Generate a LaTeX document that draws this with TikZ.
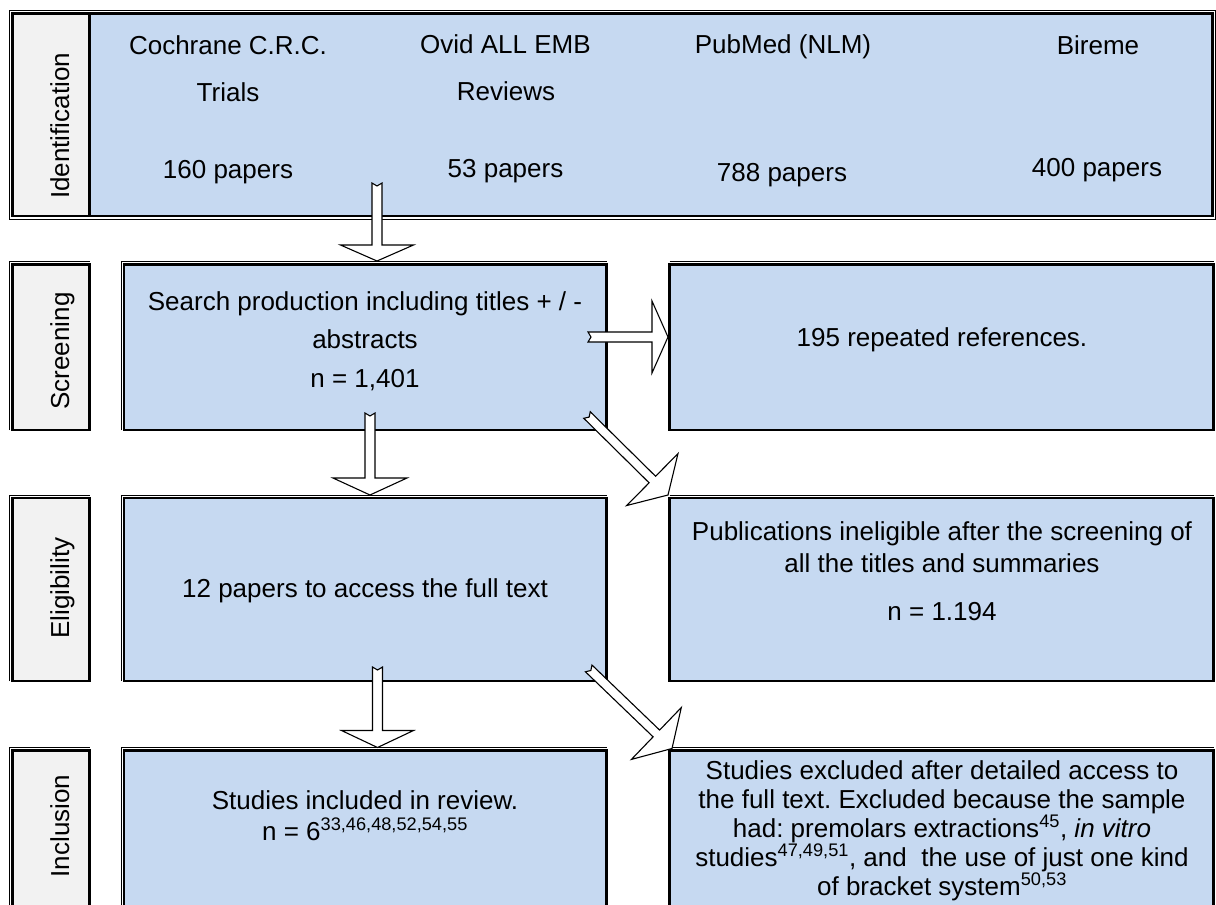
\documentclass[tikz,border=0pt]{standalone}
\usepackage{fontspec}
\setmainfont{Liberation Sans}
\usetikzlibrary{calc,fit}
\definecolor{boxblue}{HTML}{C6D9F1}
\definecolor{labgray}{HTML}{F2F2F2}
\frenchspacing
% block arrow: #1 start, #2 tip, #3 shaft half width, #4 head length, #5 head half width, #6 notch depth
\newcommand\blockarrow[6]{%
  \coordinate (bahead) at ($(#2)!#4!(#1)$);
  \draw[blockarr] ($(#1)!#3!90:(#2)$) -- ($(bahead)!#3!-90:(#1)$) -- ($(bahead)!#5!-90:(#1)$)
    -- (#2) -- ($(bahead)!#5!90:(#1)$) -- ($(bahead)!#3!90:(#1)$) -- ($(#1)!#3!-90:(#2)$)
    -- ($(#1)!#6!(#2)$) -- cycle;
}
\begin{document}
\begin{tikzpicture}[x=1pt,y=-1pt,
  font=\fontsize{26}{30}\selectfont,
  lab/.style={draw, line width=2.6pt, fill=labgray, inner sep=0pt, outer sep=0pt},
  bbox/.style={draw, line width=2.6pt, fill=boxblue, inner sep=0pt, outer sep=0pt},
  thinln/.style={line width=1pt},
  txt/.style={anchor=base, inner sep=0pt},
  vtxt/.style={anchor=base, rotate=90, inner sep=0pt},
  blockarr/.style={draw, fill=white, line width=1.1pt, line join=miter}]
\useasboundingbox (0,0) rectangle (1216,905);
\clip (0,0) rectangle (1216,905);

% ---------- boxes ----------
\node[lab, fit={(12.5,13.5) (89.5,216)}] (idlab) {};
\node[bbox, fit={(89.5,13.5) (1212.5,216)}] (idbox) {};
\draw[thinln] ([shift={(-3pt,-3pt)}]idlab.south west) rectangle ([shift={(3pt,3pt)}]idbox.north east);

\node[lab, fit={(12.5,264.5) (89.5,430)}] (sclab) {};
\node[bbox, fit={(124,264.5) (606.5,430)}] (search) {};
\node[bbox, fit={(669.5,264.5) (1213.5,430)}] (repeated) {};

\node[lab, fit={(12.5,498) (89.5,681)}] (ellab) {};
\node[bbox, fit={(124,498) (606.5,681)}] (fulltext) {};
\node[bbox, fit={(669.5,498) (1213.5,681)}] (inelig) {};

\node[lab, fit={(12.5,750.5) (89.5,915)}] (inlab) {};
\node[bbox, fit={(124,750.5) (606.5,915)}] (included) {};
\node[bbox, fit={(669.5,750.5) (1213.5,915)}] (excluded) {};

\foreach \b in {sclab,search,ellab,fulltext,inlab,included}{
  \draw[thinln] ([xshift=-3pt]\b.south west) |- ([yshift=3pt]\b.north east);
}
\foreach \b in {repeated,inelig,excluded}{
  \draw[thinln] ([yshift=3pt]\b.north west) -- ([yshift=3pt]\b.north east);
}

% ---------- stage labels ----------
\node[vtxt] (lid) at (69,126) {Identification};
\node[vtxt] (lsc) at (69,351) {Screening};
\node[vtxt] (lel) at (69,588) {Eligibility};
\node[vtxt] (lin) at (69,826) {Inclusion};

% ---------- identification texts ----------
\node[txt] (t1a) at (228,54) {Cochrane C.R.C.};
\node[txt] (t1b) at (228,101.5) {Trials};
\node[txt] (t1c) at (228,178) {160 papers};
\node[txt] (t2a) at (505.5,53.5) {Ovid ALL EMB};
\node[txt] (t2b) at (506,100) {Reviews};
\node[txt] (t2c) at (505.5,177.5) {53 papers};
\node[txt] (t3a) at (783,53.5) {PubMed (NLM)};
\node[txt] (t3c) at (782,181) {788 papers};
\node[txt] (t4a) at (1098,54) {Bireme};
\node[txt] (t4c) at (1097,176) {400 papers};

% ---------- screening texts ----------
\node[txt] (s1) at (365,310) {Search production including titles + / -};
\node[txt] (s2) at (365,348) {abstracts};
\node[txt] (s3) at (365,387) {n = 1,401};
\node[txt] (r1) at (942,346) {195 repeated references.};

% ---------- eligibility texts ----------
\node[txt] (e1) at (365,597) {12 papers to access the full text};
\node[txt] (i1) at (942,540) {Publications ineligible after the screening of};
\node[txt] (i2) at (942,572) {all the titles and summaries};
\node[txt] (i3) at (942,620) {n = 1.194};

% ---------- inclusion texts ----------
\node[txt] (n1) at (365,809) {Studies included in review.};
\node[txt] (n2) at (365,840) {n = 6\textsuperscript{33,46,48,52,54,55}};
\node[txt] (x1) at (942,779) {Studies excluded after detailed access to};
\node[txt] (x2) at (942,808) {the full text. Excluded because the sample};
\node[txt] (x3) at (942,837) {had: premolars extractions\textsuperscript{45}, \textit{in vitro}};
\node[txt] (x4) at (942,866) {studies\textsuperscript{47,49,51}, and\ \ the use of just one kind};
\node[txt] (x5) at (942,895) {of bracket system\textsuperscript{50,53}};

% ---------- block arrows ----------
\coordinate (a1s) at (377,183);
\coordinate (a1t) at ([yshift=3.5pt]search.north -| a1s);
\blockarrow{a1s}{a1t}{5pt}{16pt}{36.5pt}{3pt}

\coordinate (a2s) at (588,337);
\coordinate (a2t) at ([xshift=-1.5pt]repeated.west |- a2s);
\blockarrow{a2s}{a2t}{5pt}{16pt}{36pt}{3pt}

\coordinate (a3s) at (370,413);
\coordinate (a3t) at ([yshift=3pt]fulltext.north -| a3s);
\blockarrow{a3s}{a3t}{5pt}{17pt}{37pt}{3pt}

\coordinate (a4s) at (377.5,667);
\coordinate (a4t) at ([yshift=3pt]included.north -| a4s);
\blockarrow{a4s}{a4t}{5pt}{17pt}{36pt}{3pt}

\coordinate (a5s) at (587,415);
\coordinate (a5t) at ([shift={(-1.5pt,3pt)}]inelig.north west);
\blockarrow{a5s}{a5t}{4.6pt}{22pt}{36.5pt}{3pt}

\coordinate (a6s) at (588.7,668.4);
\coordinate (a6t) at ([shift={(2.5pt,2pt)}]excluded.north west);
\blockarrow{a6s}{a6t}{4.7pt}{21.7pt}{36pt}{3pt}
\end{tikzpicture}
\end{document}
